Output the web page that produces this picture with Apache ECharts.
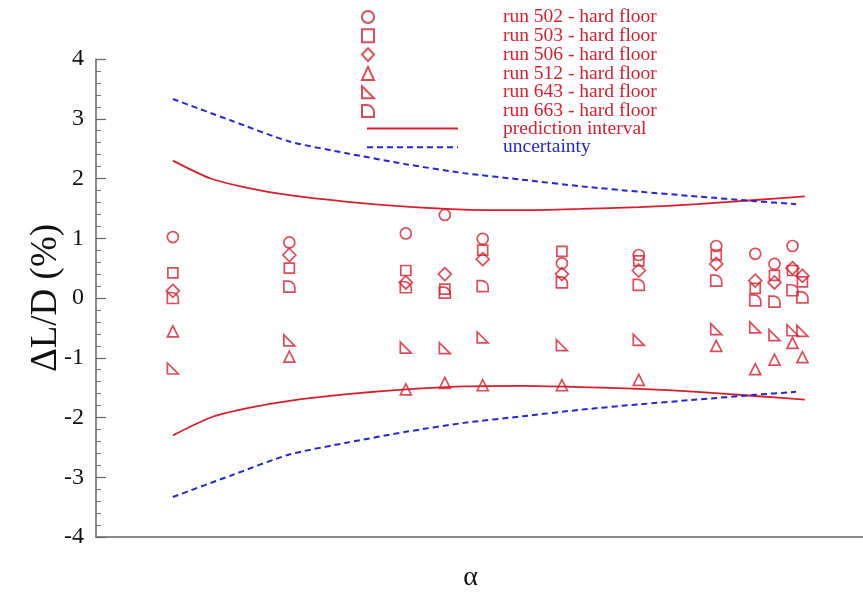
<!DOCTYPE html>
<html>
<head>
<meta charset="utf-8">
<script src="https://cdn.jsdelivr.net/npm/echarts@6/dist/echarts.min.js"></script>
<style>
  html, body { margin: 0; padding: 0; background: #fff; }
  #chart { width: 863px; height: 593px; }
</style>
</head>
<body>
<div id="chart"></div>
<script>
// Angle of attack stations (deg) where the runs were measured
const alpha = [-4, -2, 0, 0.67, 1.32, 2.68, 4, 5.33, 6, 6.33, 6.64, 6.81];

// ΔL/D (%) for each run, one value per station (null = no measurement)
const run502 = [1.02, 0.93, 1.08, 1.39, 0.99, 0.58, 0.72, 0.87, 0.74, 0.57, 0.87, null];
const run503 = [0.42, 0.50, 0.46, 0.15, 0.80, 0.78, 0.62, 0.72, 0.16, 0.38, 0.46, 0.27];
const run506 = [0.12, 0.72, 0.26, 0.40, 0.65, 0.40, 0.46, 0.57, 0.29, 0.26, 0.50, 0.37];
const run512 = [-0.56, -0.98, -1.53, -1.42, -1.46, -1.46, -1.37, -0.80, -1.19, -1.03, -0.75, -0.99];
const run643 = [-1.18, -0.71, -0.83, -0.84, -0.66, -0.79, -0.70, -0.52, -0.49, -0.62, -0.54, -0.55];
const run663 = [0.00, 0.19, 0.18, 0.09, 0.20, 0.26, 0.22, 0.29, -0.04, -0.06, 0.13, 0.01];

// Prediction interval half-width (symmetric about zero)
const predAlpha = [-4, -3.35, -2.7, -2, -1, 0, 1, 2, 3, 4, 5, 6, 6.85];
const predHalf  = [2.30, 2.00, 1.84, 1.72, 1.61, 1.53, 1.48, 1.47, 1.49, 1.52, 1.57, 1.64, 1.70];

// Uncertainty band half-width (symmetric about zero)
const uncAlpha = [-4, -3, -2, -1, 0, 1, 2, 3, 4, 5, 6, 6.7];
const uncHalf  = [3.33, 2.97, 2.62, 2.42, 2.24, 2.09, 1.98, 1.87, 1.78, 1.70, 1.62, 1.57];

const yTicks = [-4, -3, -2, -1, 0, 1, 2, 3, 4];

const RED = '#d61f2d';
const BLUE = '#2525d8';
const SERIF = '"Liberation Serif", "DejaVu Serif", serif';

const pair = (xs, ys) => xs.map((x, i) => [x, ys[i]]).filter(p => p[1] !== null);
const neg = ys => ys.map(v => -v);

const runs = [
  { name: 'run 502 - hard floor', data: run502, symbol: 'circle', size: 11 },
  { name: 'run 503 - hard floor', data: run503, symbol: 'rect', size: 10 },
  { name: 'run 506 - hard floor', data: run506, symbol: 'diamond', size: 13 },
  { name: 'run 512 - hard floor', data: run512, symbol: 'triangle', size: 11 },
  { name: 'run 643 - hard floor', data: run643, symbol: 'path://M0,0 L0,10 L10,10 Z', size: 11 },
  { name: 'run 663 - hard floor', data: run663, symbol: 'path://M0,0 L4,0 A6,6 0 0 1 10,6 L10,10 L0,10 Z', size: 11 }
];

const scatterSeries = runs.map(r => ({
  type: 'scatter',
  name: r.name,
  data: pair(alpha, r.data),
  symbol: r.symbol,
  symbolSize: r.size,
  itemStyle: { color: 'rgba(255,255,255,0)', borderColor: RED, borderWidth: 1.7 },
  emphasis: { disabled: true },
  z: 5
}));

const lineSeries = [
  { name: 'prediction interval', xs: predAlpha, ys: predHalf, color: RED, type: 'solid', width: 1.8 },
  { name: 'prediction interval', xs: predAlpha, ys: neg(predHalf), color: RED, type: 'solid', width: 1.8 },
  { name: 'uncertainty', xs: uncAlpha, ys: uncHalf, color: BLUE, type: [6, 4], width: 2 },
  { name: 'uncertainty', xs: uncAlpha, ys: neg(uncHalf), color: BLUE, type: [6, 4], width: 2 }
].map(l => ({
  type: 'line',
  name: l.name,
  data: pair(l.xs, l.ys),
  symbol: 'none',
  smooth: 0.25,
  lineStyle: { color: l.color, width: l.width, type: l.type },
  itemStyle: { color: l.color },
  emphasis: { disabled: true },
  z: 3
}));

// legend line samples carry no marker dot
const hiddenMarker = { color: 'rgba(0,0,0,0)', borderColor: 'rgba(0,0,0,0)', opacity: 0 };

const chart = echarts.init(document.getElementById('chart'), null, { renderer: 'canvas' });

chart.setOption({
  animation: false,
  backgroundColor: '#fff',
  grid: { left: 96, right: 0, top: 59, bottom: 56, outerBoundsMode: 'none', containLabel: false },
  legend: [
    {
      data: runs.map(r => ({ name: r.name, textStyle: { color: RED } })),
      orient: 'vertical',
      left: 361,
      top: 7,
      padding: 0,
      itemWidth: 12,
      itemHeight: 13,
      itemGap: -1.2,
      selectedMode: false,
      textStyle: { fontFamily: SERIF, fontSize: 19.5, padding: [0, 0, 0, 124] }
    },
    {
      data: [
        { name: 'prediction interval', textStyle: { color: RED }, itemStyle: hiddenMarker },
        { name: 'uncertainty', textStyle: { color: BLUE }, itemStyle: hiddenMarker }
      ],
      orient: 'vertical',
      left: 366,
      top: 118.5,
      padding: 0,
      itemWidth: 91,
      itemHeight: 13,
      itemGap: -1.2,
      selectedMode: false,
      textStyle: { fontFamily: SERIF, fontSize: 19.5, padding: [0, 0, 0, 40] }
    }
  ],
  xAxis: {
    type: 'value',
    min: -5.32,
    max: 7.85,
    name: 'α',
    nameLocation: 'middle',
    nameGap: 27,
    nameTextStyle: { fontFamily: SERIF, fontSize: 28, color: '#111', padding: [0, 18, 0, 0] },
    axisLine: { show: true, onZero: false, lineStyle: { color: '#666', width: 1.5 } },
    axisTick: { show: false },
    axisLabel: { show: false },
    splitLine: { show: false }
  },
  yAxis: {
    type: 'value',
    min: yTicks[0],
    max: yTicks[yTicks.length - 1],
    interval: 1,
    name: 'ΔL/D (%)',
    nameLocation: 'middle',
    nameRotate: 90,
    nameGap: 31,
    nameMoveOverlap: false,
    nameTextStyle: { fontFamily: SERIF, fontSize: 37, color: '#111' },
    axisLine: { show: true, onZero: false, lineStyle: { color: '#666', width: 1.5 } },
    axisTick: { show: true, inside: true, length: 10, lineStyle: { color: '#666', width: 1.2 } },
    minorTick: { show: true, splitNumber: 5, length: 5, lineStyle: { color: '#777', width: 1 } },
    axisLabel: { fontFamily: SERIF, fontSize: 24, color: '#111', margin: 12 },
    splitLine: { show: false }
  },
  series: [...lineSeries, ...scatterSeries]
});
</script>
</body>
</html>
